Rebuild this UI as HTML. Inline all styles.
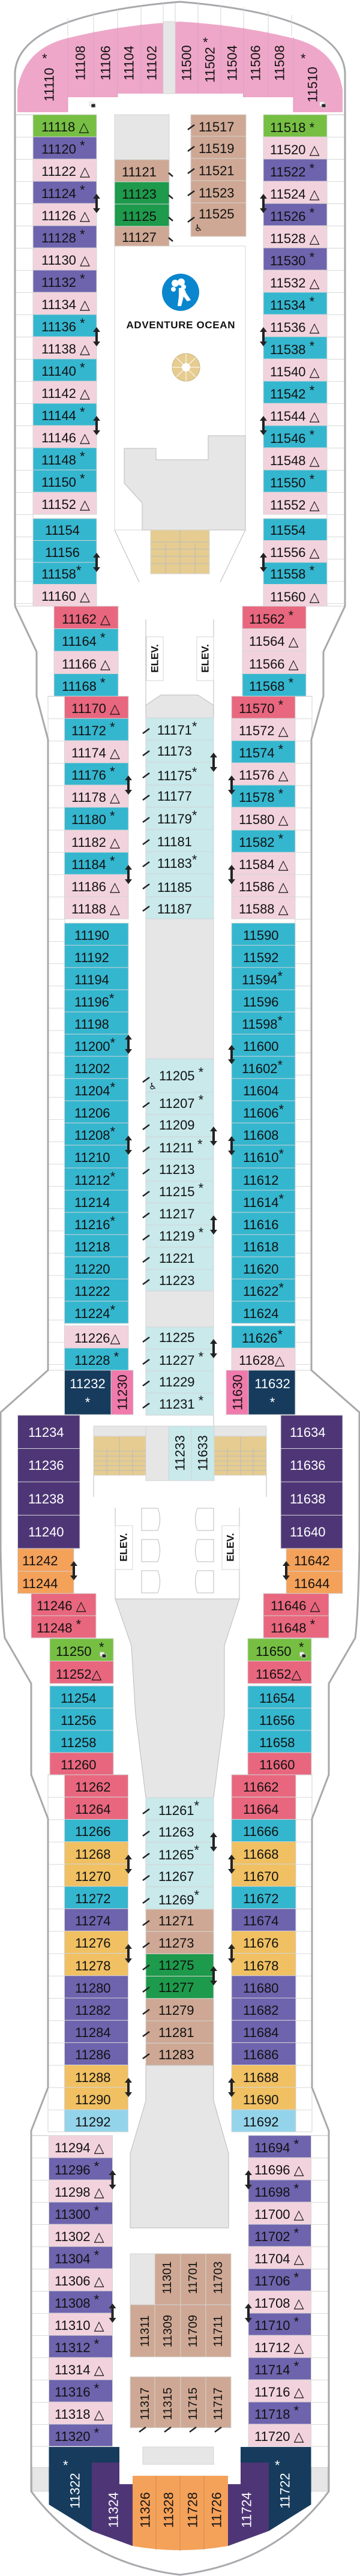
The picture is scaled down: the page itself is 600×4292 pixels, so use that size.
<!DOCTYPE html>
<html><head><meta charset="utf-8"><style>
html,body{margin:0;padding:0;background:#fff}
svg{display:block}
.pk{fill:#f2d3dd}.pu{fill:#6e63ad}.te{fill:#35b6cf}.lg{fill:#76bf43}.dg{fill:#1d9a4b}.tn{fill:#cea894}.rd{fill:#e8677e}.nv{fill:#163b5d}.dp{fill:#4e3676}.or{fill:#f4a15a}.go{fill:#f0c062}.lb{fill:#94d4eb}.lc{fill:#c9e9eb}.hp{fill:#ef7aab}.gy{fill:#e6e6e6}
rect{stroke:#d4d4d4;stroke-width:1}
text{font-family:"Liberation Sans","DejaVu Sans",sans-serif;font-size:22px;fill:#111}
.w{fill:#fff}
.v{text-anchor:middle;dominant-baseline:central}
.s{font-size:20px}
.d{stroke:#222;stroke-width:2.5;fill:none}
.b{stroke:#d9d9d9;stroke-width:1}
</style></head><body>
<svg width="600" height="4292" viewBox="0 0 600 4292" xmlns="http://www.w3.org/2000/svg">
<defs>
<path id="ar" d="M0,-16 L6,-8 L2,-8 L2,8 L6,8 L0,16 L-6,8 L-2,8 L-2,-8 L-6,-8 Z" fill="#222"/>
<pattern id="p1" width="10" height="37" patternUnits="userSpaceOnUse" patternTransform="translate(0,191)"><line x1="0" y1="0.5" x2="10" y2="0.5" stroke="#d9d9d9"/></pattern>
<pattern id="p2" width="10" height="37.1" patternUnits="userSpaceOnUse" patternTransform="translate(0,1160)"><line x1="0" y1="0.5" x2="10" y2="0.5" stroke="#d9d9d9"/></pattern>
<pattern id="p3" width="10" height="37.2" patternUnits="userSpaceOnUse" patternTransform="translate(0,2957)"><line x1="0" y1="0.5" x2="10" y2="0.5" stroke="#d9d9d9"/></pattern>
<pattern id="p4" width="10" height="37" patternUnits="userSpaceOnUse" patternTransform="translate(0,3558)"><line x1="0" y1="0.5" x2="10" y2="0.5" stroke="#d9d9d9"/></pattern>
</defs>

<!-- balcony lines -->
<rect x="25" y="191" width="30" height="819" fill="url(#p1)" stroke="none"/>
<rect x="545" y="191" width="30" height="819" fill="url(#p1)" stroke="none"/>
<rect x="80" y="1160" width="28" height="1123" fill="url(#p2)" stroke="none"/>
<rect x="492" y="1160" width="28" height="1123" fill="url(#p2)" stroke="none"/>
<rect x="80" y="2957" width="28" height="595" fill="url(#p3)" stroke="none"/>
<rect x="492" y="2957" width="28" height="595" fill="url(#p3)" stroke="none"/>
<rect x="52" y="3558" width="30" height="518" fill="url(#p4)" stroke="none"/>
<rect x="518" y="3558" width="30" height="518" fill="url(#p4)" stroke="none"/>

<!-- hull -->
<path d="M25,1010 L25,120 Q32,25 300,3 Q568,25 575,120 L575,1010 L539,1086 L539,1160 L519,1232 L519,2283 L600,2354" fill="none" stroke="#a7a9ac" stroke-width="3"/>
<path d="M25,1010 L61,1086 L61,1160 L80,1232 L80,2283 L0,2354" fill="none" stroke="#a7a9ac" stroke-width="3"/>
<path d="M1,2354 L1,2580 Q3,2690 8,2729 L52,2805 L52,2957 L80,3030 L80,3478 L52,3550 L52,4151 Q140,4270 300,4290 Q460,4270 548,4151 L548,3550 L520,3478 L520,3030 L548,2957 L548,2805 L592,2729 Q597,2690 599,2580 L599,2354" fill="none" stroke="#a7a9ac" stroke-width="3"/>

<!-- top pink -->
<g stroke="#d4d4d4"><line x1="113" y1="30" x2="113" y2="60"/><line x1="156" y1="20" x2="156" y2="55"/><line x1="196" y1="15" x2="196" y2="45"/><line x1="235" y1="10" x2="235" y2="40"/><line x1="272" y1="5" x2="272" y2="37"/><line x1="292" y1="5" x2="292" y2="37"/><line x1="330" y1="5" x2="330" y2="37"/><line x1="368" y1="8" x2="368" y2="40"/><line x1="406" y1="12" x2="406" y2="45"/><line x1="447" y1="18" x2="447" y2="55"/><line x1="486" y1="25" x2="486" y2="60"/></g>
<path d="M29,187 L29,150 Q40,80 115,63 Q200,42 300,36 Q400,42 485,63 Q560,80 571,150 L571,187 L489,187 L489,162 L405,162 L405,156 L196,156 L196,162 L113,162 L113,187 Z" fill="#eea7c9"/>
<rect class="gy" x="272" y="36" width="20" height="120"/>
<g stroke="#d9a0bd"><line x1="113" y1="62" x2="113" y2="187"/><line x1="156" y1="52" x2="156" y2="162"/><line x1="196" y1="45" x2="196" y2="162"/><line x1="235" y1="40" x2="235" y2="156"/><line x1="330" y1="37" x2="330" y2="156"/><line x1="368" y1="40" x2="368" y2="156"/><line x1="406" y1="45" x2="406" y2="162"/><line x1="447" y1="52" x2="447" y2="162"/><line x1="489" y1="62" x2="489" y2="187"/></g>
<text class="v" transform="translate(82,141) rotate(-90)">11110</text><text x="70" y="105">*</text>
<text class="v" transform="translate(134,105) rotate(-90)">11108</text>
<text class="v" transform="translate(176,105) rotate(-90)">11106</text>
<text class="v" transform="translate(215,105) rotate(-90)">11104</text>
<text class="v" transform="translate(253,105) rotate(-90)">11102</text>
<text class="v" transform="translate(311,105) rotate(-90)">11500</text>
<text class="v" transform="translate(350,108) rotate(-90)">11502</text><text x="338" y="78">*</text>
<text class="v" transform="translate(387,105) rotate(-90)">11504</text>
<text class="v" transform="translate(426,105) rotate(-90)">11506</text>
<text class="v" transform="translate(466,105) rotate(-90)">11508</text>
<text class="v" transform="translate(521,141) rotate(-90)">11510</text><text x="501" y="105">*</text>

<!-- forward left -->
<rect class="lg" x="55" y="191" width="106" height="37"/><text x="69" y="219">11118 △</text>
<rect x="148" y="171" width="0" height="0"/>
<rect x="149" y="170" width="7" height="6" fill="#fff" stroke="#222"/><rect x="152" y="173" width="7" height="6" fill="#222" stroke="none"/>
<rect class="pu" x="55" y="228" width="106" height="37"/><text x="69" y="256">11120 <tspan dy="-6">*</tspan></text>
<rect class="pk" x="55" y="265" width="106" height="37"/><text x="69" y="293">11122 △</text>
<rect class="pu" x="55" y="302" width="106" height="37"/><text x="69" y="330">11124 <tspan dy="-6">*</tspan></text>
<rect class="pk" x="55" y="339" width="106" height="37"/><text x="69" y="367">11126 △</text>
<rect class="pu" x="55" y="376" width="106" height="37"/><text x="69" y="404">11128 <tspan dy="-6">*</tspan></text>
<rect class="pk" x="55" y="413" width="106" height="37"/><text x="69" y="441">11130 △</text>
<rect class="pu" x="55" y="450" width="106" height="37"/><text x="69" y="478">11132 <tspan dy="-6">*</tspan></text>
<rect class="pk" x="55" y="487" width="106" height="37"/><text x="69" y="515">11134 △</text>
<rect class="te" x="55" y="524" width="106" height="37"/><text x="69" y="552">11136 <tspan dy="-6">*</tspan></text>
<rect class="pk" x="55" y="561" width="106" height="37"/><text x="69" y="589">11138 △</text>
<rect class="te" x="55" y="598" width="106" height="37"/><text x="69" y="626">11140 <tspan dy="-6">*</tspan></text>
<rect class="pk" x="55" y="635" width="106" height="37"/><text x="69" y="663">11142 △</text>
<rect class="te" x="55" y="672" width="106" height="37"/><text x="69" y="700">11144 <tspan dy="-6">*</tspan></text>
<rect class="pk" x="55" y="709" width="106" height="37"/><text x="69" y="737">11146 △</text>
<rect class="te" x="55" y="746" width="106" height="37"/><text x="69" y="774">11148 <tspan dy="-6">*</tspan></text>
<rect class="te" x="55" y="783" width="106" height="37"/><text x="69" y="811">11150 <tspan dy="-6">*</tspan></text>
<rect class="pk" x="55" y="820" width="106" height="37"/><text x="69" y="848">11152 △</text>
<rect class="te" x="55" y="864" width="106" height="36.5"/><text x="75" y="891">11154</text>
<rect class="te" x="55" y="900.5" width="106" height="36.5"/><text x="75" y="928">11156</text>
<rect class="te" x="55" y="937" width="106" height="36.5"/><text x="69" y="964">11158<tspan dy="-6">*</tspan></text>
<rect class="pk" x="55" y="973.5" width="106" height="36.5"/><text x="69" y="1001">11160 △</text>

<!-- forward right -->
<rect class="lg" x="439" y="191" width="106" height="37"/><text x="450" y="220">11518 *</text>
<rect x="533" y="170" width="7" height="6" fill="#fff" stroke="#222"/><rect x="536" y="173" width="7" height="6" fill="#222" stroke="none"/>
<rect class="pk" x="439" y="228" width="106" height="37"/><text x="450" y="257">11520 △</text>
<rect class="pu" x="439" y="265" width="106" height="37"/><text x="450" y="294">11522 <tspan dy="-6">*</tspan></text>
<rect class="pk" x="439" y="302" width="106" height="37"/><text x="450" y="331">11524 △</text>
<rect class="pu" x="439" y="339" width="106" height="37"/><text x="450" y="368">11526 <tspan dy="-6">*</tspan></text>
<rect class="pk" x="439" y="376" width="106" height="37"/><text x="450" y="405">11528 △</text>
<rect class="pu" x="439" y="413" width="106" height="37"/><text x="450" y="442">11530 <tspan dy="-6">*</tspan></text>
<rect class="pk" x="439" y="450" width="106" height="37"/><text x="450" y="479">11532 △</text>
<rect class="te" x="439" y="487" width="106" height="37"/><text x="450" y="516">11534 <tspan dy="-6">*</tspan></text>
<rect class="pk" x="439" y="524" width="106" height="37"/><text x="450" y="553">11536 △</text>
<rect class="te" x="439" y="561" width="106" height="37"/><text x="450" y="590">11538 <tspan dy="-6">*</tspan></text>
<rect class="pk" x="439" y="598" width="106" height="37"/><text x="450" y="627">11540 △</text>
<rect class="te" x="439" y="635" width="106" height="37"/><text x="450" y="664">11542 <tspan dy="-6">*</tspan></text>
<rect class="pk" x="439" y="672" width="106" height="37"/><text x="450" y="701">11544 △</text>
<rect class="te" x="439" y="709" width="106" height="37"/><text x="450" y="738">11546 <tspan dy="-6">*</tspan></text>
<rect class="pk" x="439" y="746" width="106" height="37"/><text x="450" y="775">11548 △</text>
<rect class="te" x="439" y="783" width="106" height="37"/><text x="450" y="812">11550 <tspan dy="-6">*</tspan></text>
<rect class="pk" x="439" y="820" width="106" height="37"/><text x="450" y="849">11552 △</text>
<rect class="te" x="439" y="864" width="106" height="36.5"/><text x="450" y="891">11554</text>
<rect class="pk" x="439" y="900.5" width="106" height="36.5"/><text x="450" y="928">11556 △</text>
<rect class="te" x="439" y="937" width="106" height="36.5"/><text x="450" y="964">11558 <tspan dy="-6">*</tspan></text>
<rect class="pk" x="439" y="973.5" width="106" height="36.5"/><text x="450" y="1002">11560 △</text>

<!-- forward center -->
<rect class="gy" x="191" y="191" width="91" height="75"/>
<rect class="tn" x="191" y="266" width="91" height="37"/><text x="203" y="294">11121</text>
<rect class="dg" x="191" y="303" width="91" height="37"/><text x="203" y="331">11123</text>
<rect class="dg" x="191" y="340" width="91" height="37"/><text x="203" y="368">11125</text>
<rect class="tn" x="191" y="377" width="91" height="33"/><text x="203" y="403">11127</text>
<g class="d"><path d="M281,288 L288,294"/><path d="M281,325 L288,331"/><path d="M281,362 L288,368"/><path d="M281,396 L288,402"/></g>
<rect class="tn" x="318" y="191" width="92" height="36"/><text x="331" y="219">11517</text>
<rect class="tn" x="318" y="227" width="92" height="37"/><text x="331" y="255">11519</text>
<rect class="tn" x="318" y="264" width="92" height="37"/><text x="331" y="292">11521</text>
<rect class="tn" x="318" y="301" width="92" height="37"/><text x="331" y="329">11523</text>
<rect class="tn" x="318" y="338" width="92" height="56"/><text x="331" y="364">11525</text>
<text x="324" y="385" style="font-size:15px">♿</text>
<g class="d"><path d="M313,216 L324,208"/><path d="M313,252 L324,244"/><path d="M313,289 L324,281"/><path d="M313,326 L324,318"/><path d="M313,370 L324,362"/></g>
<rect x="191" y="410" width="218" height="473" fill="#fff" stroke="#bbb"/>
<circle cx="301" cy="487" r="31" fill="#0a86cf"/>
<g fill="#fff"><circle cx="292" cy="472" r="6"/><circle cx="302" cy="470" r="6"/><circle cx="289" cy="482" r="4"/><path d="M298,480 Q308,478 310,488 L318,500 L312,502 L306,494 L302,510 L296,510 L298,494 Z"/><circle cx="306" cy="478" r="4"/></g>
<text x="301" y="547" text-anchor="middle" style="font-size:17px;font-weight:bold" textLength="181">ADVENTURE OCEAN</text>
<circle cx="310" cy="612" r="23" fill="#e6cc90" stroke="#c8b37e"/>
<g stroke="#fff" stroke-width="1"><line x1="287" y1="612" x2="333" y2="612"/><line x1="310" y1="589" x2="310" y2="635"/><line x1="294" y1="596" x2="326" y2="628"/><line x1="326" y1="596" x2="294" y2="628"/></g>
<circle cx="310" cy="612" r="7" fill="#fff"/>
<path d="M207,747 L260,747 L260,766 L347,766 L347,726 L409,726 L409,883 L237,883 L237,838 L207,805 Z" fill="#e6e6e6" stroke="#bbb"/>
<rect x="251" y="883" width="98" height="73" fill="#e6cc90" stroke="#bbb"/>
<g stroke="#bbb"><line x1="251" y1="903" x2="349" y2="903"/><line x1="251" y1="915" x2="349" y2="915"/><line x1="251" y1="927" x2="349" y2="927"/><line x1="251" y1="939" x2="349" y2="939"/><line x1="300" y1="883" x2="300" y2="956"/><line x1="276" y1="905" x2="276" y2="956"/><line x1="325" y1="905" x2="325" y2="956"/>
<line x1="191" y1="883" x2="232" y2="970"/><line x1="409" y1="883" x2="367" y2="970"/>
<line x1="243" y1="1032" x2="243" y2="1196"/><line x1="356" y1="1032" x2="356" y2="1196"/></g>
<rect x="244" y="1061" width="28" height="73" fill="#fff" stroke="#999"/><text class="v" transform="translate(258,1097) rotate(-90)" style="font-size:17px;font-weight:bold">ELEV.</text>
<rect x="328" y="1061" width="28" height="73" fill="#fff" stroke="#999"/><text class="v" transform="translate(342,1097) rotate(-90)" style="font-size:17px;font-weight:bold">ELEV.</text>
<path d="M243,1196 L243,1175 L268,1158 L330,1158 L356,1175 L356,1196 Z" fill="#e6e6e6" stroke="#bbb"/>

<!-- tier2 -->
<rect class="rd" x="90" y="1010" width="107" height="37.5"/><text x="103" y="1039">11162 △</text>
<rect class="te" x="90" y="1047.5" width="107" height="37.5"/><text x="103" y="1076">11164 <tspan dy="-6">*</tspan></text>
<rect class="pk" x="90" y="1085" width="107" height="37.5"/><text x="103" y="1114">11166 △</text>
<rect class="te" x="90" y="1122.5" width="107" height="37.5"/><text x="103" y="1151">11168 <tspan dy="-6">*</tspan></text>
<rect class="rd" x="404" y="1010" width="106" height="37.5"/><text x="415" y="1039">11562 <tspan dy="-6">*</tspan></text>
<rect class="pk" x="404" y="1047.5" width="106" height="37.5"/><text x="415" y="1076">11564 △</text>
<rect class="pk" x="404" y="1085" width="106" height="37.5"/><text x="415" y="1114">11566 △</text>
<rect class="te" x="404" y="1122.5" width="106" height="37.5"/><text x="415" y="1151">11568 <tspan dy="-6">*</tspan></text>

<!-- tier3 left -->
<rect class="rd" x="107.5" y="1160" width="106.5" height="37"/><text x="119" y="1188">11170 △</text>
<rect class="te" x="107.5" y="1197" width="106.5" height="37"/><text x="119" y="1225">11172 <tspan dy="-6">*</tspan></text>
<rect class="pk" x="107.5" y="1234" width="106.5" height="37"/><text x="119" y="1262">11174 △</text>
<rect class="te" x="107.5" y="1271" width="106.5" height="37"/><text x="119" y="1299">11176 <tspan dy="-6">*</tspan></text>
<rect class="pk" x="107.5" y="1308" width="106.5" height="37"/><text x="119" y="1336">11178 △</text>
<rect class="te" x="107.5" y="1345" width="106.5" height="38"/><text x="119" y="1373">11180 <tspan dy="-6">*</tspan></text>
<rect class="pk" x="107.5" y="1383" width="106.5" height="37"/><text x="119" y="1411">11182 △</text>
<rect class="te" x="107.5" y="1420" width="106.5" height="37"/><text x="119" y="1448">11184 <tspan dy="-6">*</tspan></text>
<rect class="pk" x="107.5" y="1457" width="106.5" height="37"/><text x="119" y="1485">11186 △</text>
<rect class="pk" x="107.5" y="1494" width="106.5" height="37"/><text x="119" y="1522">11188 △</text>
<!-- tier3 right -->
<rect class="rd" x="386" y="1160" width="106" height="37"/><text x="398" y="1188">11570 <tspan dy="-6">*</tspan></text>
<rect class="pk" x="386" y="1197" width="106" height="37"/><text x="398" y="1225">11572 △</text>
<rect class="te" x="386" y="1234" width="106" height="37"/><text x="398" y="1262">11574 <tspan dy="-6">*</tspan></text>
<rect class="pk" x="386" y="1271" width="106" height="37"/><text x="398" y="1299">11576 △</text>
<rect class="te" x="386" y="1308" width="106" height="37"/><text x="398" y="1336">11578 <tspan dy="-6">*</tspan></text>
<rect class="pk" x="386" y="1345" width="106" height="38"/><text x="398" y="1373">11580 △</text>
<rect class="te" x="386" y="1383" width="106" height="37"/><text x="398" y="1411">11582 <tspan dy="-6">*</tspan></text>
<rect class="pk" x="386" y="1420" width="106" height="37"/><text x="398" y="1448">11584 △</text>
<rect class="pk" x="386" y="1457" width="106" height="37"/><text x="398" y="1485">11586 △</text>
<rect class="pk" x="386" y="1494" width="106" height="37"/><text x="398" y="1522">11588 △</text>
<!-- center tier3 -->
<rect class="lc" x="243" y="1196" width="113" height="37"/><text x="262" y="1224">11171<tspan dy="-6">*</tspan></text>
<rect class="lc" x="243" y="1233" width="113" height="37"/><text x="262" y="1259">11173</text>
<rect class="lc" x="243" y="1270" width="113" height="38"/><text x="262" y="1300">11175<tspan dy="-6">*</tspan></text>
<rect class="lc" x="243" y="1308" width="113" height="37"/><text x="262" y="1334">11177</text>
<rect class="lc" x="243" y="1345" width="113" height="37"/><text x="262" y="1372">11179<tspan dy="-6">*</tspan></text>
<rect class="lc" x="243" y="1382" width="113" height="37"/><text x="262" y="1410">11181</text>
<rect class="lc" x="243" y="1419" width="113" height="37"/><text x="262" y="1446">11183<tspan dy="-6">*</tspan></text>
<rect class="lc" x="243" y="1456" width="113" height="38"/><text x="262" y="1486">11185</text>
<rect class="lc" x="243" y="1494" width="113" height="37"/><text x="262" y="1522">11187</text>
<g class="d"><path d="M238,1222 L249,1214"/><path d="M238,1259 L249,1251"/><path d="M238,1296 L249,1288"/><path d="M238,1333 L249,1325"/><path d="M238,1370 L249,1362"/><path d="M238,1407 L249,1399"/><path d="M238,1444 L249,1436"/><path d="M238,1481 L249,1473"/><path d="M238,1518 L249,1510"/></g>
<rect class="gy" x="243" y="1531" width="113" height="233"/>

<!-- teal block -->
<g>
<rect class="te" x="107.5" y="1538" width="106.5" height="37"/><text x="124" y="1566">11190</text>
<rect class="te" x="107.5" y="1575" width="106.5" height="37"/><text x="124" y="1603">11192</text>
<rect class="te" x="107.5" y="1612" width="106.5" height="37"/><text x="124" y="1640">11194</text>
<rect class="te" x="107.5" y="1649" width="106.5" height="37"/><text x="124" y="1677">11196<tspan dy="-6">*</tspan></text>
<rect class="te" x="107.5" y="1686" width="106.5" height="37"/><text x="124" y="1714">11198</text>
<rect class="te" x="107.5" y="1723" width="106.5" height="37"/><text x="124" y="1751">11200<tspan dy="-6">*</tspan></text>
<rect class="te" x="107.5" y="1760" width="106.5" height="37"/><text x="124" y="1788">11202</text>
<rect class="te" x="107.5" y="1797" width="106.5" height="37"/><text x="124" y="1825">11204<tspan dy="-6">*</tspan></text>
<rect class="te" x="107.5" y="1834" width="106.5" height="37"/><text x="124" y="1862">11206</text>
<rect class="te" x="107.5" y="1871" width="106.5" height="37"/><text x="124" y="1899">11208<tspan dy="-6">*</tspan></text>
<rect class="te" x="107.5" y="1908" width="106.5" height="38"/><text x="124" y="1936">11210</text>
<rect class="te" x="107.5" y="1946" width="106.5" height="37"/><text x="124" y="1974">11212<tspan dy="-6">*</tspan></text>
<rect class="te" x="107.5" y="1983" width="106.5" height="37"/><text x="124" y="2011">11214</text>
<rect class="te" x="107.5" y="2020" width="106.5" height="37"/><text x="124" y="2048">11216<tspan dy="-6">*</tspan></text>
<rect class="te" x="107.5" y="2057" width="106.5" height="37"/><text x="124" y="2085">11218</text>
<rect class="te" x="107.5" y="2094" width="106.5" height="37"/><text x="124" y="2122">11220</text>
<rect class="te" x="107.5" y="2131" width="106.5" height="37"/><text x="124" y="2159">11222</text>
<rect class="te" x="107.5" y="2168" width="106.5" height="37"/><text x="124" y="2196">11224<tspan dy="-6">*</tspan></text>
<rect class="pk" x="107.5" y="2209" width="106.5" height="37"/><text x="124" y="2237">11226△</text>
<rect class="te" x="107.5" y="2246" width="106.5" height="37"/><text x="124" y="2274">11228 <tspan dy="-6">*</tspan></text>
</g>
<g>
<rect class="te" x="386" y="1538" width="106" height="37"/><text x="405" y="1566">11590</text>
<rect class="te" x="386" y="1575" width="106" height="37"/><text x="405" y="1603">11592</text>
<rect class="te" x="386" y="1612" width="106" height="37"/><text x="403" y="1640">11594<tspan dy="-6">*</tspan></text>
<rect class="te" x="386" y="1649" width="106" height="37"/><text x="405" y="1677">11596</text>
<rect class="te" x="386" y="1686" width="106" height="37"/><text x="403" y="1714">11598<tspan dy="-6">*</tspan></text>
<rect class="te" x="386" y="1723" width="106" height="37"/><text x="405" y="1751">11600</text>
<rect class="te" x="386" y="1760" width="106" height="37"/><text x="403" y="1788">11602<tspan dy="-6">*</tspan></text>
<rect class="te" x="386" y="1797" width="106" height="37"/><text x="405" y="1825">11604</text>
<rect class="te" x="386" y="1834" width="106" height="37"/><text x="405" y="1862">11606<tspan dy="-6">*</tspan></text>
<rect class="te" x="386" y="1871" width="106" height="37"/><text x="405" y="1899">11608</text>
<rect class="te" x="386" y="1908" width="106" height="38"/><text x="405" y="1936">11610<tspan dy="-6">*</tspan></text>
<rect class="te" x="386" y="1946" width="106" height="37"/><text x="405" y="1974">11612</text>
<rect class="te" x="386" y="1983" width="106" height="37"/><text x="405" y="2011">11614<tspan dy="-6">*</tspan></text>
<rect class="te" x="386" y="2020" width="106" height="37"/><text x="405" y="2048">11616</text>
<rect class="te" x="386" y="2057" width="106" height="37"/><text x="405" y="2085">11618</text>
<rect class="te" x="386" y="2094" width="106" height="37"/><text x="405" y="2122">11620</text>
<rect class="te" x="386" y="2131" width="106" height="37"/><text x="405" y="2159">11622<tspan dy="-6">*</tspan></text>
<rect class="te" x="386" y="2168" width="106" height="37"/><text x="405" y="2196">11624</text>
<rect class="te" x="386" y="2209" width="106" height="37"/><text x="403" y="2237">11626<tspan dy="-6">*</tspan></text>
<rect class="pk" x="386" y="2246" width="106" height="37"/><text x="398" y="2274">11628△</text>
</g>
<!-- center 11205.. -->
<rect class="lc" x="243" y="1764" width="113" height="56"/><text x="265" y="1800">11205 <tspan dy="-6">*</tspan></text><text x="248" y="1815" style="font-size:15px">♿</text>
<rect class="lc" x="243" y="1820" width="113" height="37"/><text x="265" y="1846">11207 <tspan dy="-6">*</tspan></text>
<rect class="lc" x="243" y="1857" width="113" height="37"/><text x="265" y="1882">11209</text>
<rect class="lc" x="243" y="1894" width="113" height="37"/><text x="265" y="1920">11211 <tspan dy="-6">*</tspan></text>
<rect class="lc" x="243" y="1931" width="113" height="37"/><text x="265" y="1956">11213</text>
<rect class="lc" x="243" y="1968" width="113" height="36"/><text x="265" y="1993">11215 <tspan dy="-6">*</tspan></text>
<rect class="lc" x="243" y="2004" width="113" height="37"/><text x="265" y="2030">11217</text>
<rect class="lc" x="243" y="2041" width="113" height="37"/><text x="265" y="2067">11219 <tspan dy="-6">*</tspan></text>
<rect class="lc" x="243" y="2078" width="113" height="37"/><text x="265" y="2104">11221</text>
<rect class="lc" x="243" y="2115" width="113" height="36"/><text x="265" y="2141">11223</text>
<rect class="gy" x="243" y="2151" width="113" height="60"/>
<rect class="lc" x="243" y="2211" width="113" height="37"/><text x="265" y="2236">11225</text>
<rect class="lc" x="243" y="2248" width="113" height="36"/><text x="265" y="2274">11227 <tspan dy="-6">*</tspan></text>
<rect class="lc" x="243" y="2284" width="113" height="37"/><text x="265" y="2310">11229</text>
<rect class="lc" x="243" y="2321" width="113" height="37"/><text x="265" y="2347">11231 <tspan dy="-6">*</tspan></text>
<g class="d"><path d="M238,1803 L249,1795"/><path d="M238,1845 L249,1837"/><path d="M238,1882 L249,1874"/><path d="M238,1919 L249,1911"/><path d="M238,1956 L249,1948"/><path d="M238,1993 L249,1985"/><path d="M238,2029 L249,2021"/><path d="M238,2066 L249,2058"/><path d="M238,2103 L249,2095"/><path d="M238,2140 L249,2132"/><path d="M238,2236 L249,2228"/><path d="M238,2273 L249,2265"/><path d="M238,2309 L249,2301"/><path d="M238,2346 L249,2338"/></g>
<rect class="nv" x="107.5" y="2283" width="77.5" height="74"/><text class="w" x="146" y="2313" text-anchor="middle">11232</text><text class="w" x="146" y="2344" text-anchor="middle">*</text>
<rect class="hp" x="185" y="2283" width="37" height="74"/><text class="v" transform="translate(204,2320) rotate(-90)">11230</text>
<rect class="hp" x="377" y="2283" width="37" height="74"/><text class="v" transform="translate(396,2320) rotate(-90)">11630</text>
<rect class="nv" x="414" y="2283" width="78" height="74"/><text class="w" x="454" y="2313" text-anchor="middle">11632</text><text class="w" x="454" y="2344" text-anchor="middle">*</text>

<!-- stairs/elev aft-mid -->
<rect class="gy" x="156" y="2376" width="288" height="17"/>
<rect class="gy" x="243" y="2376" width="38" height="91"/>
<rect x="156" y="2393" width="87" height="65" fill="#e6cc90" stroke="#bbb"/>
<rect x="357" y="2393" width="87" height="65" fill="#e6cc90" stroke="#bbb"/>
<g stroke="#bbb"><line x1="156" y1="2418" x2="243" y2="2418"/><line x1="156" y1="2426" x2="243" y2="2426"/><line x1="156" y1="2434" x2="243" y2="2434"/><line x1="156" y1="2442" x2="243" y2="2442"/><line x1="156" y1="2450" x2="243" y2="2450"/><line x1="199" y1="2393" x2="199" y2="2458"/><line x1="178" y1="2415" x2="178" y2="2458"/><line x1="221" y1="2415" x2="221" y2="2458"/>
<line x1="357" y1="2418" x2="444" y2="2418"/><line x1="357" y1="2426" x2="444" y2="2426"/><line x1="357" y1="2434" x2="444" y2="2434"/><line x1="357" y1="2442" x2="444" y2="2442"/><line x1="357" y1="2450" x2="444" y2="2450"/><line x1="401" y1="2393" x2="401" y2="2458"/><line x1="379" y1="2413" x2="379" y2="2458"/><line x1="422" y1="2413" x2="422" y2="2458"/>
<line x1="156" y1="2458" x2="156" y2="2494"/><line x1="444" y1="2458" x2="444" y2="2494"/><line x1="356" y1="2358" x2="356" y2="2376"/></g>
<rect class="lc" x="281" y="2376" width="38" height="91"/><text class="v" transform="translate(300,2421) rotate(-90)">11233</text>
<rect class="lc" x="319" y="2376" width="38" height="91"/><text class="v" transform="translate(338,2421) rotate(-90)">11633</text>
<g stroke="#bbb" fill="#fff"><line x1="192" y1="2512" x2="192" y2="2664"/><line x1="399" y1="2512" x2="399" y2="2664"/>
<path d="M236,2513 L263,2513 Q270,2531 263,2550 L236,2550 Z"/><path d="M236,2565 L263,2565 Q270,2583 263,2602 L236,2602 Z"/><path d="M236,2617 L263,2617 Q270,2635 263,2654 L236,2654 Z"/>
<path d="M356,2513 L329,2513 Q322,2531 329,2550 L356,2550 Z"/><path d="M356,2565 L329,2565 Q322,2583 329,2602 L356,2602 Z"/><path d="M356,2617 L329,2617 Q322,2635 329,2654 L356,2654 Z"/></g>
<rect x="192" y="2542" width="29" height="73" fill="#fff" stroke="#999"/><text class="v" transform="translate(206,2578) rotate(-90)" style="font-size:17px;font-weight:bold">ELEV.</text>
<rect x="370" y="2542" width="29" height="73" fill="#fff" stroke="#999"/><text class="v" transform="translate(384,2578) rotate(-90)" style="font-size:17px;font-weight:bold">ELEV.</text>
<path d="M192,2664 L399,2664 L374,2742 L374,2857 L356,2995 L243,2995 L226,2857 L219,2742 Z" fill="#e6e6e6" stroke="#bbb"/>

<!-- aft-mid wide -->
<rect class="dp" x="29.5" y="2358" width="103.5" height="55.5"/><text class="w" x="47" y="2394">11234</text>
<rect class="dp" x="29.5" y="2413.5" width="103.5" height="55.5"/><text class="w" x="47" y="2449">11236</text>
<rect class="dp" x="29.5" y="2469" width="103.5" height="55.5"/><text class="w" x="47" y="2505">11238</text>
<rect class="dp" x="29.5" y="2524.5" width="103.5" height="55.5"/><text class="w" x="47" y="2560">11240</text>
<rect class="dp" x="468" y="2358" width="103" height="55.5"/><text class="w" x="483" y="2394">11634</text>
<rect class="dp" x="468" y="2413.5" width="103" height="55.5"/><text class="w" x="483" y="2449">11636</text>
<rect class="dp" x="468" y="2469" width="103" height="55.5"/><text class="w" x="483" y="2505">11638</text>
<rect class="dp" x="468" y="2524.5" width="103" height="55.5"/><text class="w" x="483" y="2560">11640</text>
<rect class="or" x="29.5" y="2580" width="93.5" height="38"/><text x="37" y="2608">11242</text>
<rect class="or" x="29.5" y="2618" width="93.5" height="37"/><text x="37" y="2646">11244</text>
<rect class="or" x="477" y="2580" width="94" height="38"/><text x="490" y="2608">11642</text>
<rect class="or" x="477" y="2618" width="94" height="37"/><text x="490" y="2646">11644</text>
<rect class="rd" x="52" y="2655" width="108" height="37"/><text x="61" y="2683">11246 △</text>
<rect class="rd" x="52" y="2692" width="108" height="37"/><text x="61" y="2720">11248 <tspan dy="-6">*</tspan></text>
<rect class="rd" x="439" y="2655" width="109" height="37"/><text x="451" y="2683">11646 △</text>
<rect class="rd" x="439" y="2692" width="109" height="37"/><text x="451" y="2720">11648 <tspan dy="-6">*</tspan></text>
<rect class="lg" x="83" y="2730" width="106" height="37.5"/><text x="93" y="2759">11250</text><text x="165" y="2752">*</text>
<rect x="167" y="2753" width="6" height="6" fill="#fff" stroke="#222"/><rect x="170" y="2756" width="7" height="6" fill="#222" stroke="none"/>
<rect class="rd" x="83" y="2767.5" width="106" height="37.5"/><text x="93" y="2797">11252△</text>
<rect class="lg" x="413" y="2730" width="106" height="37.5"/><text x="426" y="2759">11650</text><text x="498" y="2752">*</text>
<rect x="500" y="2753" width="6" height="6" fill="#fff" stroke="#222"/><rect x="503" y="2756" width="7" height="6" fill="#222" stroke="none"/>
<rect class="rd" x="413" y="2767.5" width="106" height="37.5"/><text x="426" y="2797">11652△</text>
<rect class="te" x="83" y="2809" width="106" height="37"/><text x="101" y="2837">11254</text>
<rect class="te" x="83" y="2846" width="106" height="37"/><text x="101" y="2874">11256</text>
<rect class="te" x="83" y="2883" width="106" height="37"/><text x="101" y="2911">11258</text>
<rect class="rd" x="83" y="2920" width="106" height="37"/><text x="101" y="2948">11260</text>
<rect class="te" x="413" y="2809" width="106" height="37"/><text x="432" y="2837">11654</text>
<rect class="te" x="413" y="2846" width="106" height="37"/><text x="432" y="2874">11656</text>
<rect class="te" x="413" y="2883" width="106" height="37"/><text x="432" y="2911">11658</text>
<rect class="rd" x="413" y="2920" width="106" height="37"/><text x="432" y="2948">11660</text>

<!-- aft column -->
<g>
<rect class="rd" x="107.5" y="2957" width="106" height="37.2"/><text x="125" y="2985">11262</text>
<rect class="rd" x="107.5" y="2994.2" width="106" height="37.2"/><text x="125" y="3022">11264</text>
<rect class="te" x="107.5" y="3031.4" width="106" height="37.2"/><text x="125" y="3059">11266</text>
<rect class="go" x="107.5" y="3068.6" width="106" height="37.2"/><text x="125" y="3097">11268</text>
<rect class="go" x="107.5" y="3105.8" width="106" height="37.2"/><text x="125" y="3134">11270</text>
<rect class="te" x="107.5" y="3143" width="106" height="37.2"/><text x="125" y="3171">11272</text>
<rect class="pu" x="107.5" y="3180.2" width="106" height="37.2"/><text x="125" y="3208">11274</text>
<rect class="go" x="107.5" y="3217.4" width="106" height="37.2"/><text x="125" y="3245">11276</text>
<rect class="go" x="107.5" y="3254.6" width="106" height="37.2"/><text x="125" y="3283">11278</text>
<rect class="pu" x="107.5" y="3291.8" width="106" height="37.2"/><text x="125" y="3320">11280</text>
<rect class="pu" x="107.5" y="3329" width="106" height="37.2"/><text x="125" y="3357">11282</text>
<rect class="pu" x="107.5" y="3366.2" width="106" height="37.2"/><text x="125" y="3394">11284</text>
<rect class="pu" x="107.5" y="3403.4" width="106" height="37.2"/><text x="125" y="3431">11286</text>
<rect class="go" x="107.5" y="3440.6" width="106" height="37.2"/><text x="125" y="3469">11288</text>
<rect class="go" x="107.5" y="3477.8" width="106" height="37.2"/><text x="125" y="3506">11290</text>
<rect class="lb" x="107.5" y="3515" width="106" height="37"/><text x="125" y="3543">11292</text>
</g>
<g>
<rect class="rd" x="386" y="2957" width="107" height="37.2"/><text x="405" y="2985">11662</text>
<rect class="rd" x="386" y="2994.2" width="107" height="37.2"/><text x="405" y="3022">11664</text>
<rect class="te" x="386" y="3031.4" width="107" height="37.2"/><text x="405" y="3059">11666</text>
<rect class="go" x="386" y="3068.6" width="107" height="37.2"/><text x="405" y="3097">11668</text>
<rect class="go" x="386" y="3105.8" width="107" height="37.2"/><text x="405" y="3134">11670</text>
<rect class="te" x="386" y="3143" width="107" height="37.2"/><text x="405" y="3171">11672</text>
<rect class="pu" x="386" y="3180.2" width="107" height="37.2"/><text x="405" y="3208">11674</text>
<rect class="go" x="386" y="3217.4" width="107" height="37.2"/><text x="405" y="3245">11676</text>
<rect class="go" x="386" y="3254.6" width="107" height="37.2"/><text x="405" y="3283">11678</text>
<rect class="pu" x="386" y="3291.8" width="107" height="37.2"/><text x="405" y="3320">11680</text>
<rect class="pu" x="386" y="3329" width="107" height="37.2"/><text x="405" y="3357">11682</text>
<rect class="pu" x="386" y="3366.2" width="107" height="37.2"/><text x="405" y="3394">11684</text>
<rect class="pu" x="386" y="3403.4" width="107" height="37.2"/><text x="405" y="3431">11686</text>
<rect class="go" x="386" y="3440.6" width="107" height="37.2"/><text x="405" y="3469">11688</text>
<rect class="go" x="386" y="3477.8" width="107" height="37.2"/><text x="405" y="3506">11690</text>
<rect class="lb" x="386" y="3515" width="107" height="37"/><text x="405" y="3543">11692</text>
</g>
<g>
<rect class="lc" x="243" y="2995" width="113" height="37.2"/><text x="264" y="3024">11261<tspan dy="-8">*</tspan></text>
<rect class="lc" x="243" y="3032.2" width="113" height="37.2"/><text x="264" y="3060">11263</text>
<rect class="lc" x="243" y="3069.4" width="113" height="37.2"/><text x="264" y="3098">11265<tspan dy="-8">*</tspan></text>
<rect class="lc" x="243" y="3106.6" width="113" height="37.2"/><text x="264" y="3134">11267</text>
<rect class="lc" x="243" y="3143.8" width="113" height="37.2"/><text x="264" y="3173">11269<tspan dy="-8">*</tspan></text>
<rect class="tn" x="243" y="3181" width="113" height="37.2"/><text x="264" y="3208">11271</text>
<rect class="tn" x="243" y="3218.2" width="113" height="37.2"/><text x="264" y="3245">11273</text>
<rect class="dg" x="243" y="3255.4" width="113" height="37.2"/><text x="264" y="3282">11275</text>
<rect class="dg" x="243" y="3292.6" width="113" height="37.2"/><text x="264" y="3319">11277</text>
<rect class="tn" x="243" y="3329.8" width="113" height="37.2"/><text x="264" y="3357">11279</text>
<rect class="tn" x="243" y="3367" width="113" height="37.2"/><text x="264" y="3394">11281</text>
<rect class="tn" x="243" y="3404.2" width="113" height="37"/><text x="264" y="3431">11283</text>
</g>
<g class="d"><path d="M238,3022 L249,3014"/><path d="M238,3059 L249,3051"/><path d="M238,3096 L249,3088"/><path d="M238,3133 L249,3125"/><path d="M238,3171 L249,3163"/><path d="M238,3208 L249,3200"/><path d="M238,3245 L249,3237"/><path d="M238,3282 L249,3274"/><path d="M238,3319 L249,3311"/><path d="M238,3356 L249,3348"/><path d="M238,3393 L249,3385"/><path d="M238,3430 L249,3422"/></g>
<path d="M243,3441 L356,3441 L356,3500 L381,3588 L381,3712 L217,3712 L217,3588 L243,3500 Z" fill="#e6e6e6" stroke="#bbb"/>

<!-- aft lower -->
<g>
<rect class="pk" x="81.5" y="3558" width="106" height="37"/><text x="91" y="3586">11294 △</text>
<rect class="pu" x="81.5" y="3595" width="106" height="37"/><text x="91" y="3623">11296 <tspan dy="-6">*</tspan></text>
<rect class="pk" x="81.5" y="3632" width="106" height="37"/><text x="91" y="3660">11298 △</text>
<rect class="pu" x="81.5" y="3669" width="106" height="37"/><text x="91" y="3697">11300 <tspan dy="-6">*</tspan></text>
<rect class="pk" x="81.5" y="3706" width="106" height="37"/><text x="91" y="3734">11302 △</text>
<rect class="pu" x="81.5" y="3743" width="106" height="37"/><text x="91" y="3771">11304 <tspan dy="-6">*</tspan></text>
<rect class="pk" x="81.5" y="3780" width="106" height="37"/><text x="91" y="3808">11306 △</text>
<rect class="pu" x="81.5" y="3817" width="106" height="37"/><text x="91" y="3845">11308 <tspan dy="-6">*</tspan></text>
<rect class="pk" x="81.5" y="3854" width="106" height="37"/><text x="91" y="3882">11310 △</text>
<rect class="pu" x="81.5" y="3891" width="106" height="37"/><text x="91" y="3919">11312 <tspan dy="-6">*</tspan></text>
<rect class="pk" x="81.5" y="3928" width="106" height="37"/><text x="91" y="3956">11314 △</text>
<rect class="pu" x="81.5" y="3965" width="106" height="37"/><text x="91" y="3993">11316 <tspan dy="-6">*</tspan></text>
<rect class="pk" x="81.5" y="4002" width="106" height="37"/><text x="91" y="4030">11318 △</text>
<rect class="pu" x="81.5" y="4039" width="106" height="37"/><text x="91" y="4067">11320 <tspan dy="-6">*</tspan></text>
</g>
<g>
<rect class="pu" x="414" y="3558" width="104.5" height="37"/><text x="424" y="3586">11694 <tspan dy="-6">*</tspan></text>
<rect class="pk" x="414" y="3595" width="104.5" height="37"/><text x="424" y="3623">11696 △</text>
<rect class="pu" x="414" y="3632" width="104.5" height="37"/><text x="424" y="3660">11698 <tspan dy="-6">*</tspan></text>
<rect class="pk" x="414" y="3669" width="104.5" height="37"/><text x="424" y="3697">11700 △</text>
<rect class="pu" x="414" y="3706" width="104.5" height="37"/><text x="424" y="3734">11702 <tspan dy="-6">*</tspan></text>
<rect class="pk" x="414" y="3743" width="104.5" height="37"/><text x="424" y="3771">11704 △</text>
<rect class="pu" x="414" y="3780" width="104.5" height="37"/><text x="424" y="3808">11706 <tspan dy="-6">*</tspan></text>
<rect class="pk" x="414" y="3817" width="104.5" height="37"/><text x="424" y="3845">11708 △</text>
<rect class="pu" x="414" y="3854" width="104.5" height="37"/><text x="424" y="3882">11710 <tspan dy="-6">*</tspan></text>
<rect class="pk" x="414" y="3891" width="104.5" height="37"/><text x="424" y="3919">11712 △</text>
<rect class="pu" x="414" y="3928" width="104.5" height="37"/><text x="424" y="3956">11714 <tspan dy="-6">*</tspan></text>
<rect class="pk" x="414" y="3965" width="104.5" height="37"/><text x="424" y="3993">11716 △</text>
<rect class="pu" x="414" y="4002" width="104.5" height="37"/><text x="424" y="4030">11718 <tspan dy="-6">*</tspan></text>
<rect class="pk" x="414" y="4039" width="104.5" height="37"/><text x="424" y="4067">11720 △</text>
</g>
<!-- aft center tan -->
<rect class="gy" x="217" y="3755" width="41" height="85"/>
<rect class="tn" x="258" y="3755" width="43" height="85"/><text class="v s" transform="translate(279,3795) rotate(-90)">11301</text>
<rect class="tn" x="301" y="3755" width="42" height="85"/><text class="v s" transform="translate(322,3795) rotate(-90)">11701</text>
<rect class="tn" x="343" y="3755" width="42" height="85"/><text class="v s" transform="translate(364,3795) rotate(-90)">11703</text>
<rect class="tn" x="217" y="3840" width="41" height="87"/><text class="v s" transform="translate(242,3884) rotate(-90)">11311</text>
<rect class="tn" x="258" y="3840" width="43" height="87"/><text class="v s" transform="translate(280,3884) rotate(-90)">11309</text>
<rect class="tn" x="301" y="3840" width="42" height="87"/><text class="v s" transform="translate(322,3884) rotate(-90)">11709</text>
<rect class="tn" x="343" y="3840" width="42" height="87"/><text class="v s" transform="translate(364,3884) rotate(-90)">11711</text>
<rect class="tn" x="217" y="3960" width="41" height="85"/><text class="v s" transform="translate(242,4005) rotate(-90)">11317</text>
<rect class="tn" x="258" y="3960" width="43" height="85"/><text class="v s" transform="translate(280,4005) rotate(-90)">11315</text>
<rect class="tn" x="301" y="3960" width="42" height="85"/><text class="v s" transform="translate(322,4005) rotate(-90)">11715</text>
<rect class="tn" x="343" y="3960" width="42" height="85"/><text class="v s" transform="translate(364,4005) rotate(-90)">11717</text>
<g class="d"><path d="M232,4052 L243,4044"/><path d="M274,4052 L285,4044"/><path d="M316,4052 L327,4044"/><path d="M358,4052 L369,4044"/></g>
<rect class="gy" x="238" y="4077" width="118" height="29"/>
<!-- stern -->
<rect class="gy" x="54" y="4111" width="27" height="40" stroke="none"/>
<rect class="gy" x="519" y="4111" width="27" height="40" stroke="none"/>
<path d="M81.5,4077 L199,4077 L199,4103 L153,4103 L153,4217 L81.5,4173 Z" fill="#163b5d"/>
<path d="M153,4103 L199,4103 L199,4139 L221,4139 L221,4242 L153,4217 Z" fill="#4e3676"/>
<path d="M221,4125 L380,4125 L380,4242 Q300,4256 221,4242 Z" fill="#f4a15a"/>
<g stroke="#d08a50"><line x1="260" y1="4125" x2="260" y2="4248"/><line x1="300" y1="4125" x2="300" y2="4250"/><line x1="340" y1="4125" x2="340" y2="4248"/></g>
<path d="M380,4139 L401,4139 L401,4103 L448,4103 L448,4217 L380,4242 Z" fill="#4e3676"/>
<path d="M401,4077 L518.5,4077 L518.5,4173 L448,4217 L448,4103 L401,4103 Z" fill="#163b5d"/>
<text class="v w" transform="translate(125,4150) rotate(-90)">11322</text><text class="w" x="105" y="4115">*</text>
<text class="v w" transform="translate(189,4182) rotate(-90)">11324</text>
<text class="v" transform="translate(242,4182) rotate(-90)">11326</text>
<text class="v" transform="translate(281,4182) rotate(-90)">11328</text>
<text class="v" transform="translate(321,4182) rotate(-90)">11728</text>
<text class="v" transform="translate(361,4182) rotate(-90)">11726</text>
<text class="v w" transform="translate(411,4182) rotate(-90)">11724</text>
<text class="v w" transform="translate(475,4150) rotate(-90)">11722</text><text class="w" x="458" y="4115">*</text>

<!-- arrows -->
<use href="#ar" x="161" y="339"/><use href="#ar" x="161" y="561"/><use href="#ar" x="161" y="709"/><use href="#ar" x="161" y="937"/>
<use href="#ar" x="439" y="339"/><use href="#ar" x="439" y="561"/><use href="#ar" x="439" y="709"/><use href="#ar" x="439" y="937"/>
<use href="#ar" x="214" y="1308"/><use href="#ar" x="214" y="1457"/><use href="#ar" x="386" y="1308"/><use href="#ar" x="386" y="1457"/><use href="#ar" x="356" y="1270"/>
<use href="#ar" x="214" y="1740"/><use href="#ar" x="214" y="1908"/><use href="#ar" x="386" y="1757"/><use href="#ar" x="386" y="1909"/>
<use href="#ar" x="356" y="1893"/><use href="#ar" x="356" y="2041"/><use href="#ar" x="356" y="2247"/>
<use href="#ar" x="123" y="2617"/><use href="#ar" x="477" y="2617"/>
<use href="#ar" x="214" y="3106"/><use href="#ar" x="214" y="3255"/><use href="#ar" x="214" y="3478"/>
<use href="#ar" x="386" y="3106"/><use href="#ar" x="386" y="3255"/><use href="#ar" x="386" y="3478"/>
<use href="#ar" x="356" y="3069"/><use href="#ar" x="356" y="3292"/>
<use href="#ar" x="187.5" y="3632"/><use href="#ar" x="187.5" y="3854"/><use href="#ar" x="414" y="3632"/><use href="#ar" x="414" y="3854"/>
</svg>
</body></html>
